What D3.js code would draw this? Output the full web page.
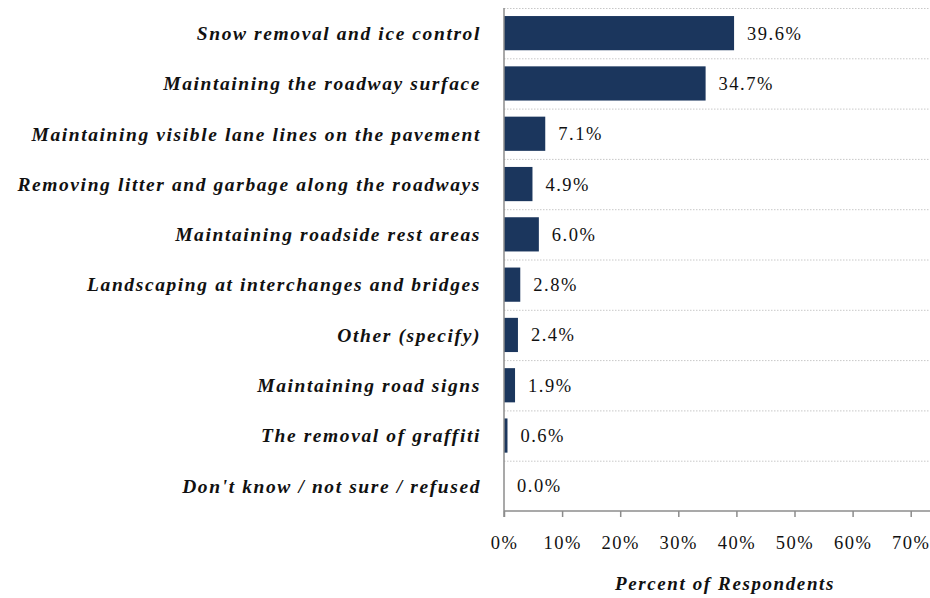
<!DOCTYPE html>
<html>
<head>
<meta charset="utf-8">
<script src="https://cdn.jsdelivr.net/npm/d3@7"></script>
<style>
  html, body { margin: 0; padding: 0; background: #fff; }
  svg text { font-family: "Liberation Serif", "DejaVu Serif", serif; fill: #111; letter-spacing: 1.5px; }
</style>
</head>
<body>
<svg id="chart" width="930" height="598"></svg>
<script>
// Survey responses: most important maintenance activity
const categories = [
  "Snow removal and ice control",
  "Maintaining the roadway surface",
  "Maintaining visible lane lines on the pavement",
  "Removing litter and garbage along the roadways",
  "Maintaining roadside rest areas",
  "Landscaping at interchanges and bridges",
  "Other (specify)",
  "Maintaining road signs",
  "The removal of graffiti",
  "Don't know / not sure / refused"
];
const values = [39.6, 34.7, 7.1, 4.9, 6.0, 2.8, 2.4, 1.9, 0.6, 0.0];
const xTicks = [0, 10, 20, 30, 40, 50, 60, 70];
const xTitle = "Percent of Respondents";

const svg = d3.select("#chart");
const plotLeft = 504, plotRight = 910.7, plotTop = 8, plotBottom = 511, gridRight = 930;

const x = d3.scaleLinear().domain([0, 70]).range([plotLeft, plotRight]);
const y = d3.scaleBand().domain(categories).range([plotTop, plotBottom]).paddingInner(0.32).paddingOuter(0.16);

// dotted horizontal separators between categories
const bounds = categories.map((c, i) => plotTop + i * (plotBottom - plotTop) / categories.length);
svg.append("g").selectAll("line").data(bounds).join("line")
  .attr("x1", plotLeft).attr("x2", gridRight)
  .attr("y1", d => d + 0.5).attr("y2", d => d + 0.5)
  .attr("stroke", "#c8c8c8").attr("stroke-width", 1)
  .attr("stroke-dasharray", "1.5,1.5");

// bars
svg.append("g").selectAll("rect").data(values).join("rect")
  .attr("x", x(0))
  .attr("y", (d, i) => y(categories[i]))
  .attr("width", d => x(d) - x(0))
  .attr("height", y.bandwidth())
  .attr("fill", "#1b365d");

// value labels
svg.append("g").selectAll("text").data(values).join("text")
  .attr("x", d => x(d) + 13)
  .attr("y", (d, i) => y(categories[i]) + y.bandwidth() / 2)
  .attr("dy", "0.35em")
  .attr("font-size", 18.5)
  .text(d => d.toFixed(1) + "%");

// category labels
svg.append("g").selectAll("text").data(categories).join("text")
  .attr("x", 481)
  .attr("y", d => y(d) + y.bandwidth() / 2)
  .attr("dy", "0.35em")
  .attr("text-anchor", "end")
  .attr("font-size", 19.5)
  .attr("font-weight", "bold")
  .attr("font-style", "italic")
  .style("letter-spacing", "1.6px")
  .text(d => d);

// x axis
const xAxis = svg.append("g")
  .attr("transform", `translate(0,${plotBottom})`)
  .call(d3.axisBottom(x).tickValues(xTicks).tickFormat(d => d + "%").tickSize(6).tickSizeOuter(0).tickPadding(19));
xAxis.select(".domain").remove();
xAxis.selectAll(".tick line").attr("stroke", "#8c8c8c").attr("stroke-width", 1.5);
xAxis.selectAll(".tick text").attr("font-size", 18.5).attr("fill", "#111")
  .attr("font-family", "Liberation Serif, serif");
svg.append("line").attr("x1", plotLeft).attr("x2", gridRight).attr("y1", plotBottom).attr("y2", plotBottom)
  .attr("stroke", "#8c8c8c").attr("stroke-width", 1.5);

// y axis line
svg.append("line").attr("x1", plotLeft).attr("x2", plotLeft).attr("y1", plotTop).attr("y2", plotBottom + 6)
  .attr("stroke", "#8c8c8c").attr("stroke-width", 1.5);

// axis title
svg.append("text")
  .attr("x", 725).attr("y", 590)
  .attr("text-anchor", "middle")
  .attr("font-size", 19)
  .attr("font-weight", "bold")
  .attr("font-style", "italic")
  .style("letter-spacing", "1.6px")
  .text(xTitle);
</script>
</body>
</html>
